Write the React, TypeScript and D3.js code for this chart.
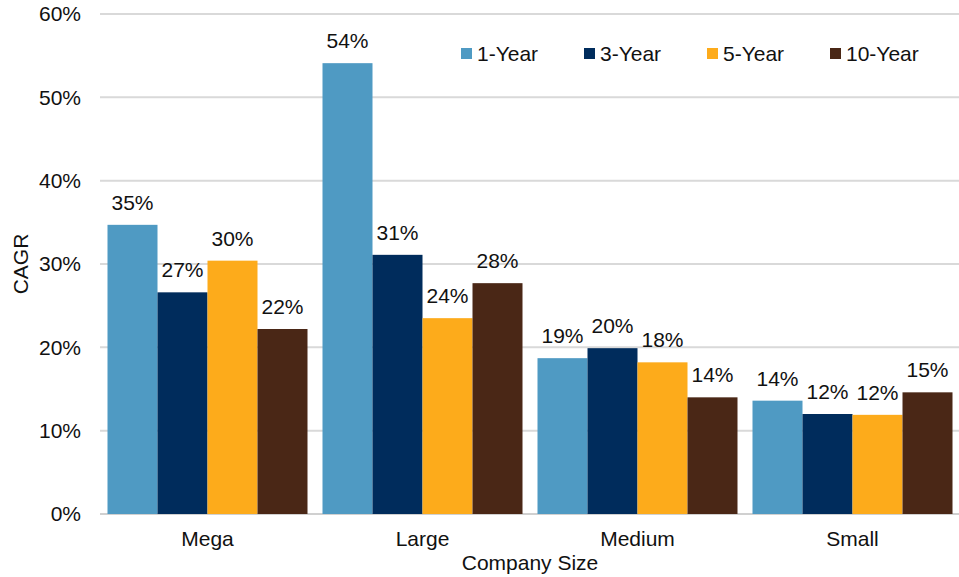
import React from "react";
import * as d3 from "d3";

const categories = ["Mega", "Large", "Medium", "Small"];
const seriesNames = ["1-Year", "3-Year", "5-Year", "10-Year"];
const oneYear = [34.7, 54.1, 18.7, 13.6];
const threeYear = [26.6, 31.1, 19.9, 12.0];
const fiveYear = [30.4, 23.5, 18.2, 11.9];
const tenYear = [22.2, 27.7, 14.0, 14.6];
const yTicks = [0, 10, 20, 30, 40, 50, 60];
const colors = ["#4F9AC3", "#002C5C", "#FDAB1B", "#4A2716"];

const W = 959;
const H = 577;
const margin = { left: 100, right: -1, top: 14, bottom: 63 };
const FONT = "'Liberation Sans', Arial, sans-serif";
const FS = 21;

export default function App() {
  const series = [oneYear, threeYear, fiveYear, tenYear];
  const x = d3
    .scaleBand<string>()
    .domain(categories)
    .range([margin.left, W - margin.right])
    .paddingInner(15 / 215)
    .paddingOuter(7.5 / 215);
  const x1 = d3.scaleBand<string>().domain(seriesNames).range([0, x.bandwidth()]);
  const y = d3.scaleLinear().domain([0, 60]).range([H - margin.bottom, margin.top]);

  return (
    <svg
      width={W}
      height={H}
      style={{ position: "absolute", left: 0, top: 0, background: "#fff" }}
      fontFamily={FONT}
    >
      {yTicks.map((t) => (
        <g key={t}>
          <line
            x1={margin.left}
            x2={W}
            y1={y(t)}
            y2={y(t)}
            stroke={t === 0 ? "#d0d0d0" : "#d9d9d9"}
            strokeWidth={2}
          />
          <text x={81} y={y(t)} dy="0.35em" textAnchor="end" fontSize={FS} fill="#111">
            {t}%
          </text>
        </g>
      ))}
      {categories.map((c, ci) => (
        <g key={c}>
          {series.map((s, si) => {
            const bx = (x(c) as number) + (x1(seriesNames[si]) as number);
            const bw = x1.bandwidth();
            return (
              <g key={si}>
                <rect x={bx} y={y(s[ci])} width={bw} height={y(0) - y(s[ci])} fill={colors[si]} />
                <text
                  x={bx + bw / 2}
                  y={y(s[ci]) - 15}
                  textAnchor="middle"
                  fontSize={FS}
                  fill="#111"
                >
                  {Math.round(s[ci])}%
                </text>
              </g>
            );
          })}
          <text
            x={(x(c) as number) + x.bandwidth() / 2}
            y={546}
            textAnchor="middle"
            fontSize={FS}
            fill="#111"
          >
            {c}
          </text>
        </g>
      ))}
      <text x={530} y={570} textAnchor="middle" fontSize={FS} fill="#111">
        Company Size
      </text>
      <text
        transform={`translate(28, ${y(30)}) rotate(-90)`}
        textAnchor="middle"
        fontSize={FS}
        fill="#111"
      >
        CAGR
      </text>
      {seriesNames.map((n, i) => (
        <g key={n} transform={`translate(${461 + i * 123}, 48)`}>
          <rect x={0} y={0} width={11} height={11} fill={colors[i]} />
          <text x={16} y={5.5} dy="0.36em" fontSize={FS} fill="#111">
            {n}
          </text>
        </g>
      ))}
    </svg>
  );
}
